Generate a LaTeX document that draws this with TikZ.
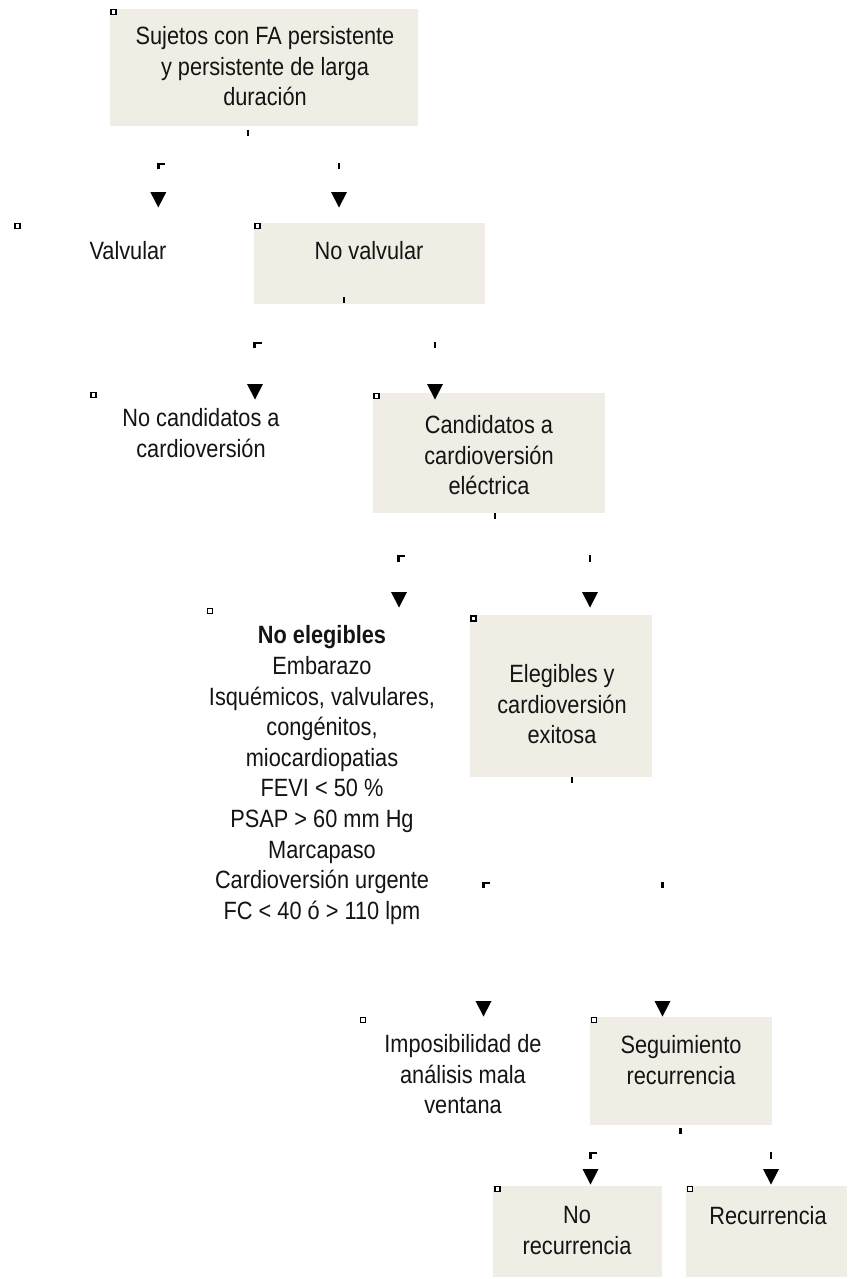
\documentclass[tikz,border=0pt]{standalone}
\usepackage{fontspec}
\setmainfont{Liberation Sans}[FakeStretch=0.87]
\definecolor{boxfill}{RGB}{240,237,229}
\definecolor{ink}{RGB}{20,20,20}
\newcommand\mystrut{\rule[-6.3pt]{0pt}{30.6pt}}
\newcommand\arrhd[2]{\fill[black] (#1-8,#2) -- (#1+8,#2) -- (#1,#2+15.5) -- cycle;}
\begin{document}
\begin{tikzpicture}[x=1pt,y=-1pt,
  box/.style={draw=none,fill=boxfill,inner sep=0pt,outer sep=0pt},
  txt/.style={align=center,inner sep=0pt,text=ink,font=\fontsize{25}{30.6}\selectfont},
  mk/.style={draw=black,fill=white,line width=1.6pt,minimum size=5pt,inner sep=0pt,outer sep=0pt},
  tk/.style={draw=black,line width=2.3pt}]
\useasboundingbox[fill=white] (0,0) rectangle (856,1279);

% boxes
\node[box,minimum width=308pt,minimum height=117pt] (b1) at (264,67.5) {};
\node[box,minimum width=231pt,minimum height=81pt] (b2) at (369.5,263.5) {};
\node[box,minimum width=232pt,minimum height=120pt] (b3) at (489,453) {};
\node[box,minimum width=182pt,minimum height=162pt] (b4) at (561,696) {};
\node[box,minimum width=182pt,minimum height=108pt] (b5) at (681,1071) {};
\node[box,minimum width=169pt,minimum height=91pt] (b6) at (577.5,1231.5) {};
\node[box,minimum width=161pt,minimum height=91pt] (b7) at (766.5,1231.5) {};

% texts
\node[txt] (t1) at (265,66.3) {\mystrut Sujetos con FA persistente\\ y persistente de larga\\ duración\mystrut};
\node[txt] (t2) at (128,250) {\mystrut Valvular};
\node[txt] (t3) at (369,250) {\mystrut No valvular};
\node[txt] (t4) at (201,433) {\mystrut No candidatos a\\ cardioversión\mystrut};
\node[txt] (t5) at (489,455) {\mystrut Candidatos a\\ cardioversión\\ eléctrica\mystrut};
\node[txt] (t6) at (322,772.5) {\mystrut\textbf{No elegibles}\\ Embarazo\\ Isquémicos, valvulares,\\ congénitos,\\ miocardiopatias\\ FEVI < 50 \%\\ PSAP > 60 mm Hg\\ Marcapaso\\ Cardioversión urgente\\ FC < 40 ó > 110 lpm\mystrut};
\node[txt] (t7) at (562,704) {\mystrut Elegibles y\\ cardioversión\\ exitosa\mystrut};
\node[txt] (t8) at (463,1074) {\mystrut Imposibilidad de\\ análisis mala\\ ventana\mystrut};
\node[txt] (t9) at (681,1060) {\mystrut Seguimiento\\ recurrencia\mystrut};
\node[txt] (t10) at (577,1230) {\mystrut No\\ recurrencia\mystrut};
\node[txt] (t11) at (768,1215) {\mystrut Recurrencia};

% markers
\node[mk] (m1) at (113.5,12) {};
\node[mk] (m2) at (17.5,226) {};
\node[mk] (m3) at (257.5,226) {};
\node[mk] (m4) at (93.5,395) {};
\node[mk] (m5) at (376.5,396) {};
\node[mk] (m6) at (210,611) {};
\node[mk] (m7) at (473.5,618.5) {};
\node[mk] (m8) at (363,1020) {};
\node[mk] (m9) at (594,1020) {};
\node[mk] (m10) at (497.5,1189) {};
\node[mk] (m11) at (690,1189) {};

% connector fragments: vertical ticks
\draw[tk] (248,130) -- (248,136);
\draw[tk] (339,163) -- (339,169);
\draw[tk] (344,297) -- (344,303);
\draw[tk] (435,342) -- (435,348);
\draw[tk] (495,513) -- (495,518.5);
\draw[tk] (590,555) -- (590,561.5);
\draw[tk] (572,777) -- (572,783);
\draw[tk] (662.5,882) -- (662.5,888);
\draw[tk] (680.5,1128) -- (680.5,1134);
\draw[tk] (771,1152) -- (771,1158.5);

% connector fragments: elbow corners
\draw[tk] (158.6,169) -- (158.6,164.2) -- (164.5,164.2);
\draw[tk] (254.6,348) -- (254.6,343.2) -- (261.5,343.2);
\draw[tk] (398.6,561.5) -- (398.6,556.2) -- (404.5,556.2);
\draw[tk] (483.6,888) -- (483.6,883.2) -- (489.5,883.2);
\draw[tk] (590.6,1158.5) -- (590.6,1153.2) -- (597,1153.2);

% arrowheads
\arrhd{158.3}{192}
\arrhd{339}{192}
\arrhd{255}{384}
\arrhd{435}{384}
\arrhd{399}{592}
\arrhd{590}{592}
\arrhd{483.5}{1001}
\arrhd{662.5}{1001}
\arrhd{590.5}{1169}
\arrhd{771}{1169}
\end{tikzpicture}
\end{document}
